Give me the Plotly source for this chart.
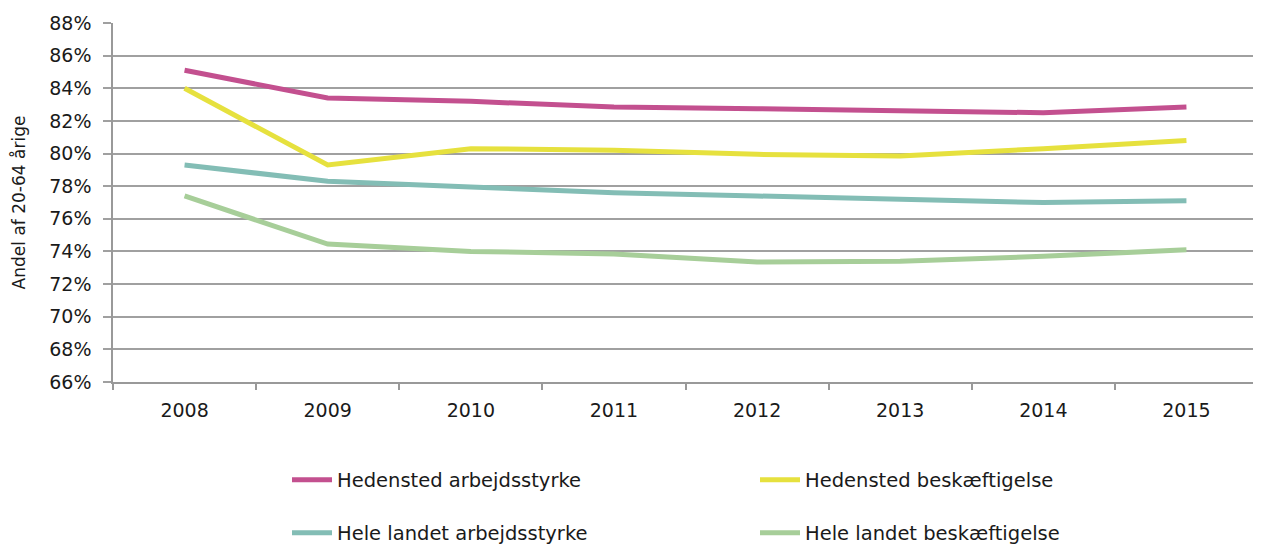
import plotly.graph_objects as go

years = ["2008", "2009", "2010", "2011", "2012", "2013", "2014", "2015"]
hed_arb = [85.1, 83.4, 83.2, 82.85, 82.75, 82.6, 82.5, 82.85]
hed_besk = [84.0, 79.3, 80.3, 80.2, 79.95, 79.85, 80.3, 80.8]
hel_arb = [79.3, 78.3, 77.95, 77.6, 77.4, 77.2, 77.0, 77.1]
hel_besk = [77.4, 74.45, 74.0, 73.85, 73.35, 73.4, 73.7, 74.1]

series = [
    ("Hedensted arbejdsstyrke", hed_arb, "#C3508F", "legend"),
    ("Hedensted beskæftigelse", hed_besk, "#E6E13E", "legend2"),
    ("Hele landet arbejdsstyrke", hel_arb, "#83BDB5", "legend3"),
    ("Hele landet beskæftigelse", hel_besk, "#A7CE99", "legend4"),
]

FONT = "DejaVu Sans, sans-serif"
TXT = "#1a1a1a"
# page body adds an 8px margin, so the figure is drawn 8px in from the window edge
W, H = 1253, 537

fig = go.Figure()
for name, vals, color, leg in series:
    fig.add_trace(go.Scatter(
        x=years, y=[v / 100 for v in vals], name=name, mode="lines",
        line=dict(color=color, width=5), legend=leg,
    ))


def leg(xpx, ypx):
    return dict(
        orientation="h", xref="container", yref="container",
        x=xpx / W, y=1 - ypx / H, xanchor="left", yanchor="middle",
        itemwidth=40, font=dict(family=FONT, size=19.5, color=TXT),
        bgcolor="rgba(0,0,0,0)",
    )


fig.update_layout(
    width=W, height=H,
    margin=dict(l=105, r=3, t=15, b=163, autoexpand=False),
    paper_bgcolor="white", plot_bgcolor="white",
    font=dict(family=FONT, size=19, color=TXT),
    showlegend=True,
    legend=leg(279, 472),
    legend2=leg(747, 472),
    legend3=leg(279, 525),
    legend4=leg(747, 525),
    xaxis=dict(
        type="category", showgrid=False, showline=True, linecolor="#999999",
        linewidth=1.5, ticks="outside", tickson="boundaries", ticklen=6,
        tickcolor="#999999", tickwidth=1.5, automargin=False,
        ticklabelstandoff=10,
        tickfont=dict(family=FONT, size=19, color=TXT),
        range=[-0.5, 7.5],
    ),
    yaxis=dict(
        range=[0.66, 0.88], dtick=0.02, tick0=0.66, tickformat=".0%",
        showgrid=True, gridcolor="#a0a0a0", gridwidth=1.5,
        showline=True, linecolor="#999999", linewidth=1.5,
        ticks="outside", ticklen=8, tickcolor="#a0a0a0", tickwidth=1.5,
        zeroline=False, automargin=False, ticklabelstandoff=8,
        tickfont=dict(family=FONT, size=19, color=TXT),
        title=dict(text="Andel af 20-64 årige", font=dict(family=FONT, size=17, color=TXT), standoff=19),
    ),
)

fig.write_html("out.html")
